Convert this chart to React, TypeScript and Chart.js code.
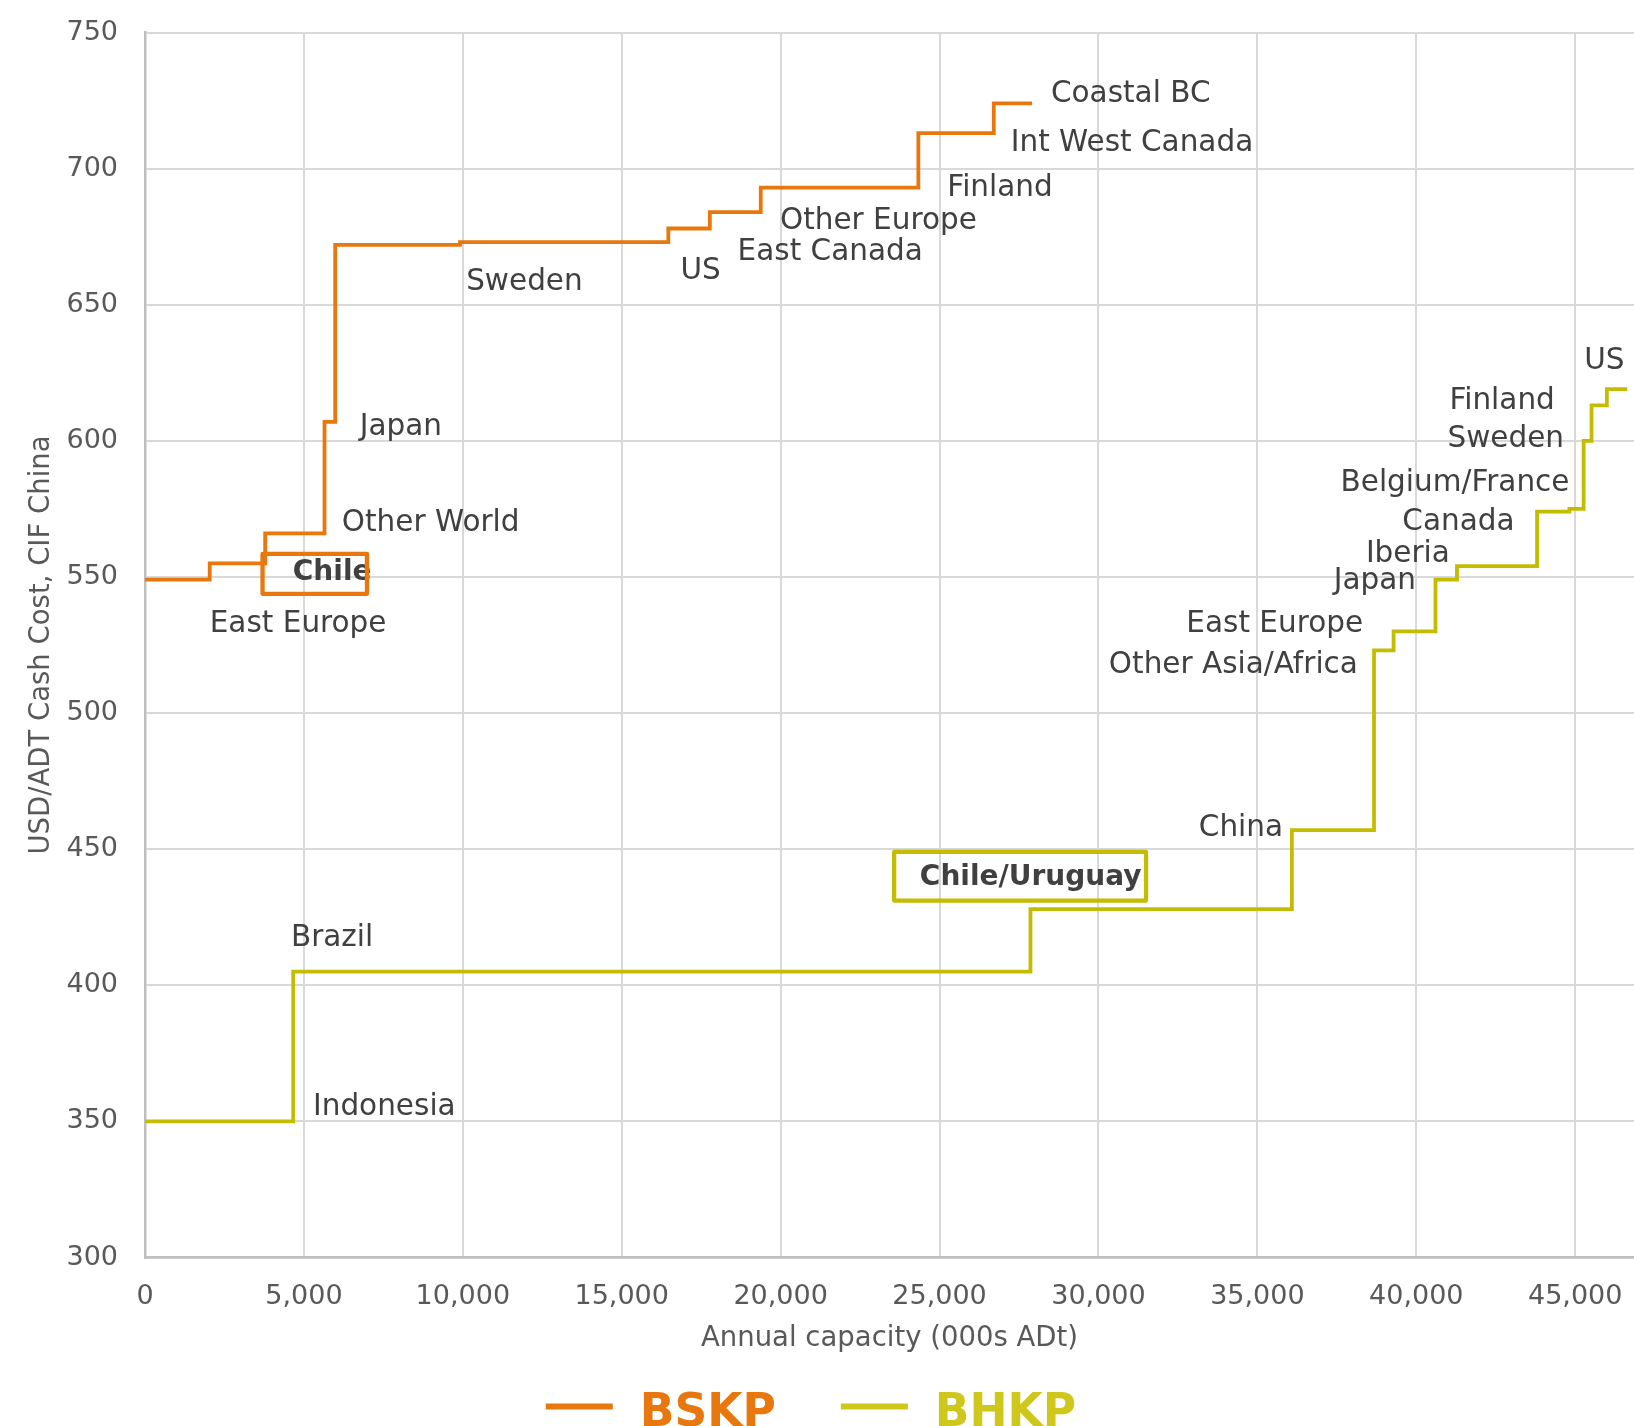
import React, { useEffect, useRef } from "react";
import { Chart, registerables } from "chart.js";

Chart.register(...registerables);

const FONT = "'DejaVu Sans', sans-serif";

// BSKP cost curve: cumulative capacity step boundaries (000s ADt) and cash cost (USD/ADt)
const bskpCapacity = [0, 2036, 3782, 5648, 5985, 9912, 16466, 17772, 19374, 24333, 26707, 27911];
const bskpCost = [549, 555, 566, 607, 672, 673, 678, 684, 693, 713, 724];

// BHKP cost curve
const bhkpCapacity = [0, 4663, 27860, 36086, 38670, 39286, 40604, 41280, 43800, 44817, 45265, 45514, 45996, 46637];
const bhkpCost = [350, 405, 428, 457, 523, 530, 549, 554, 574, 575, 600, 613, 619];

const xTickValues = [0, 5000, 10000, 15000, 20000, 25000, 30000, 35000, 40000, 45000];
const yTickValues = [300, 350, 400, 450, 500, 550, 600, 650, 700, 750];

const seriesNames = ["BSKP", "BHKP"];
const seriesColors = ["#E8770D", "#C4BC00"];
const legendTextColors = ["#E8770D", "#D0C71C"];

const xAxisTitle = "Annual capacity (000s ADt)";
const yAxisTitle = "USD/ADT Cash Cost, CIF China";

// Region labels
const bskpRegions = ["East Europe", "Chile", "Other World", "Japan", "Sweden", "US", "East Canada", "Other Europe", "Finland", "Int West Canada", "Coastal BC"];
const bhkpRegions = ["Indonesia", "Brazil", "Chile/Uruguay", "China", "Other Asia/Africa", "East Europe", "Japan", "Iberia", "Canada", "Belgium/France", "Sweden", "Finland", "US"];

// Label anchors, in data units (capacity, cost)
const bskpAnchors: [number, number][] = [
  [2036, 533.6], [4651, 552.3], [6193, 570.7], [6756, 605.8], [10104, 659.1], [16847, 663],
  [18644, 670.1], [19978, 681.7], [25245, 693.7], [27240, 710.3], [28505, 728.3],
];
const bhkpAnchors: [number, number][] = [
  [5286, 356], [4591, 418.1], [24380, 440.5], [35808, 458.6], [38162, 518.6], [38326, 533.6],
  [39993, 549.2], [41057, 559.1], [43093, 570.9], [44820, 585.2], [44648, 601.3], [44358, 615.4], [46554, 630.3],
];
const bhkpRightAligned = [false, false, false, true, true, true, true, true, true, true, true, true, true];
const highlighted = ["Chile", "Chile/Uruguay"];

// Highlight boxes: [xMin, xMax, yMin, yMax] in data units
const bskpHighlightBox = [3698, 6984, 543.8, 558.5];
const bhkpHighlightBox = [23571, 31497, 431.1, 449];

function toSteps(cap: number[], cost: number[]) {
  const pts = cost.map((c, i) => ({ x: cap[i], y: c }));
  pts.push({ x: cap[cap.length - 1], y: cost[cost.length - 1] });
  return pts;
}

export default function App() {
  const ref = useRef<HTMLCanvasElement>(null);

  useEffect(() => {
    const canvas = ref.current;
    if (!canvas) return;

    const notesPlugin = {
      id: "notes",
      afterDatasetsDraw(chart: any) {
        const { ctx } = chart;
        const xs = chart.scales.x;
        const ys = chart.scales.y;
        ctx.save();
        ctx.textBaseline = "middle";
        const drawNote = (text: string, a: [number, number], right: boolean) => {
          const bold = highlighted.includes(text);
          ctx.font = bold ? `bold 28px ${FONT}` : `29.5px ${FONT}`;
          ctx.fillStyle = "#404040";
          ctx.textAlign = right ? "right" : "left";
          ctx.fillText(text, xs.getPixelForValue(a[0]), ys.getPixelForValue(a[1]) + 2.5);
        };
        bskpRegions.forEach((t, i) => drawNote(t, bskpAnchors[i], false));
        bhkpRegions.forEach((t, i) => drawNote(t, bhkpAnchors[i], bhkpRightAligned[i]));
        const drawBox = (b: number[], color: string) => {
          const x1 = xs.getPixelForValue(b[0]);
          const x2 = xs.getPixelForValue(b[1]);
          const y1 = ys.getPixelForValue(b[3]);
          const y2 = ys.getPixelForValue(b[2]);
          ctx.strokeStyle = color;
          ctx.lineWidth = 4.3;
          ctx.lineJoin = "round";
          ctx.strokeRect(x1, y1, x2 - x1, y2 - y1);
        };
        drawBox(bskpHighlightBox, seriesColors[0]);
        drawBox(bhkpHighlightBox, seriesColors[1]);
        ctx.restore();
      },
    };

    const legendPlugin = {
      id: "bigLegend",
      afterDraw(chart: any) {
        const { ctx } = chart;
        const lineW = 67;
        const gap = 27;
        const itemGap = 65;
        ctx.save();
        ctx.font = `bold 45.5px ${FONT}`;
        ctx.textBaseline = "middle";
        ctx.textAlign = "left";
        const items = chart.data.datasets.map((d: any, i: number) => ({
          label: d.label as string,
          color: d.borderColor as string,
          textColor: legendTextColors[i],
          w: ctx.measureText(d.label).width,
        }));
        let total = 0;
        items.forEach((it: any, i: number) => {
          total += lineW + gap + it.w + (i < items.length - 1 ? itemGap : 0);
        });
        let x = chart.width / 2 - 6 - total / 2;
        const textY = chart.height - 26;
        const lineY = chart.height - 33.5;
        items.forEach((it: any, i: number) => {
          ctx.fillStyle = legendTextColors[i];
          ctx.fillRect(x, lineY - 3, lineW, 6);
          x += lineW + gap;
          ctx.fillStyle = it.textColor;
          ctx.fillText(it.label, x, textY);
          x += it.w + itemGap;
        });
        ctx.restore();
      },
    };

    const tickFont = { family: FONT, size: 27 };
    const titleFont = { family: FONT, size: 27.5 };

    const chart = new Chart(canvas, {
      type: "line",
      data: {
        datasets: [
          {
            label: seriesNames[0],
            data: toSteps(bskpCapacity, bskpCost),
            borderColor: seriesColors[0],
            backgroundColor: seriesColors[0],
            borderWidth: 3.8,
            pointRadius: 0,
            stepped: true,
            fill: false,
          },
          {
            label: seriesNames[1],
            data: toSteps(bhkpCapacity, bhkpCost),
            borderColor: seriesColors[1],
            backgroundColor: seriesColors[1],
            borderWidth: 3.8,
            pointRadius: 0,
            stepped: true,
            fill: false,
          },
        ],
      },
      options: {
        animation: false,
        responsive: false,
        maintainAspectRatio: false,
        layout: { padding: { top: 32.5, right: 0, bottom: 72.5, left: 0 } },
        plugins: {
          legend: { display: false },
          tooltip: { enabled: false },
        },
        scales: {
          x: {
            type: "linear",
            min: 0,
            max: 46850,
            afterBuildTicks: (s: any) => {
              s.ticks = xTickValues.map((v) => ({ value: v }));
            },
            ticks: {
              padding: 23,
              maxRotation: 0,
              autoSkip: false,
              color: "#595959",
              font: tickFont,
              callback: (v: any) => Number(v).toLocaleString("en-US"),
            },
            grid: { color: "#D9D9D9", lineWidth: 2, drawTicks: false },
            border: { color: "#BFBFBF", width: 2.5 },
            title: {
              display: true,
              text: xAxisTitle,
              color: "#595959",
              font: titleFont,
              padding: { top: 0, bottom: 12 },
            },
            afterFit: (s: any) => {
              s.height = 110;
              s.paddingRight = 0;
            },
          },
          y: {
            type: "linear",
            min: 300,
            max: 750,
            afterBuildTicks: (s: any) => {
              s.ticks = yTickValues.map((v) => ({ value: v }));
            },
            ticks: {
              padding: 27,
              autoSkip: false,
              color: "#595959",
              font: tickFont,
            },
            grid: { color: "#D9D9D9", lineWidth: 2, drawTicks: false },
            border: { color: "#BFBFBF", width: 2.5 },
            title: {
              display: true,
              text: yAxisTitle,
              color: "#595959",
              font: titleFont,
              padding: { top: 25, bottom: 0 },
            },
            afterFit: (s: any) => {
              s.width = 145;
              s.paddingTop = 0;
              s.paddingBottom = 0;
            },
          },
        },
      } as any,
      plugins: [notesPlugin, legendPlugin],
    });

    return () => chart.destroy();
  }, []);

  return (
    <div
      style={{
        position: "absolute",
        left: 0,
        top: 0,
        width: 1634,
        height: 1426,
        overflow: "hidden",
        background: "#ffffff",
      }}
    >
      <canvas ref={ref} width={1634} height={1440} style={{ display: "block" }} />
    </div>
  );
}
